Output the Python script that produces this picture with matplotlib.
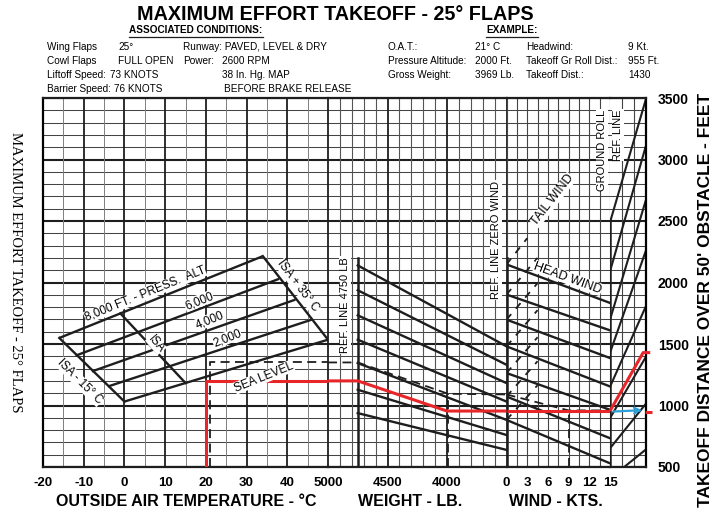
import matplotlib
matplotlib.use("Agg")
import matplotlib.pyplot as plt
from matplotlib.lines import Line2D

# ---------------- data ----------------
dist_ticks = [500, 1000, 1500, 2000, 2500, 3000, 3500]
temp_ticks = [-20, -10, 0, 10, 20, 30, 40]
weight_ticks = [5000, 4500, 4000]
wind_ticks = [0, 3, 6, 9, 12, 15]

alt_names = ["SEA LEVEL", "2,000", "4,000", "6,000", "8,000 FT. - PRESS.  ALT"]
alt_temp_cold = [0, -4, -8, -12, -16]          # ISA - 15 C edge
alt_temp_hot = [50, 46, 42, 38, 34]            # ISA + 35 C edge
alt_dist_cold = [1032, 1155, 1277, 1405, 1549]
alt_dist_hot = [1535, 1698, 1861, 2030, 2214]
isa_temp = [-1, 15]
isa_dist = [1749, 1183]

weight_ref = [4750, 3500]
weight_dist_start = [2139, 1937, 1733, 1535, 1345, 1128, 938]
weight_dist_end = [1481, 1331, 1182, 1032, 883, 760, 639]

headwind_kts = [0, 15]
headwind_dist_start = [2147, 1902, 1698, 1481, 1264, 1073, 883]
headwind_dist_end = [1834, 1611, 1386, 1155, 965, 734, 530]

tailwind_kts_end = [3.0, 4.5, 4.5, 4.5, 4.5, 4.5, 4.5]
tailwind_dist_end = [2360, 2200, 1995, 1775, 1555, 1360, 1165]

groundroll_x = [0, 3]
groundroll_dist_start = [407, 652, 897, 1152, 1429, 1698, 2090, 2489]
groundroll_dist_end = [640, 1010, 1390, 1800, 2250, 2660, 3100, 3480]

# dashed example path
ex_oat, ex_dist_temp = 21, 1350
ex_weight, ex_dist_weight = 3990, 1095
ex_wind, ex_dist_wind = 9, 960

# red solution path
red_oat, red_dist_temp = 20, 1200
red_weight, red_dist_roll = 4000, 955
red_gr_x, red_dist_total = 2.8, 1430

# ---------------- figure ----------------
W, H = 720, 525
fig = plt.figure(figsize=(7.2, 5.25), dpi=100)
fig.patch.set_facecolor("white")
SANS = ["Liberation Sans", "DejaVu Sans"]
SERIF = ["Liberation Serif", "DejaVu Serif"]
INK = "#1e1e1e"
RED = "#e8262a"
BLUE = "#2a9fd8"


def fx(x):
    return x / W


def fy(y):
    return 1 - y / H


TOP, BOT = 98, 467
bounds = {"t": (43, 328), "w": (328, 506.5), "k": (506.5, 610), "g": (610, 645.5)}


def make_ax(key, xlim):
    x0, x1 = bounds[key]
    ax = fig.add_axes([fx(x0), fy(BOT), (x1 - x0) / W, (BOT - TOP) / H])
    ax.set_xlim(*xlim)
    ax.set_ylim(500, 3500)
    ax.set_facecolor("none")
    for s in ax.spines.values():
        s.set_visible(False)
    for side in ("top", "bottom"):
        ax.spines[side].set_visible(True)
        ax.spines[side].set_linewidth(1.6)
        ax.spines[side].set_color(INK)
    ax.set_yticks([])
    ax.tick_params(axis="x", length=0, pad=7)
    for d in range(500, 3600, 100):
        major = d % 500 == 0
        ax.axhline(d, color=INK if major else "#444444", lw=1.5 if major else 0.75, zorder=0)
    return ax


ax_t = make_ax("t", (-20, 50))
ax_w = make_ax("w", (5000, 3500))
ax_k = make_ax("k", (0, 15))
ax_g = make_ax("g", (0, 3))

# vertical grid
for t in range(-20, 51, 5):
    major = t % 10 == 0
    ax_t.axvline(t, color=INK if major else "#808080", lw=1.3 if major else 0.7, zorder=0)
ax_t.spines["left"].set_visible(True)
ax_t.spines["left"].set_linewidth(1.6)
for wv in range(5000, 3499, -100):
    major = wv in (5000, 4500, 4000, 3500)
    ax_w.axvline(wv, color=INK if major else "#555555", lw=1.3 if major else 0.8, zorder=0)
for i in range(11):
    ax_k.axvline(i * 1.5, color="#444444", lw=0.8, zorder=0)
for gx in (1, 2):
    ax_g.axvline(gx, color="#444444", lw=0.8, zorder=0)
ax_g.spines["right"].set_visible(True)
ax_g.spines["right"].set_linewidth(1.6)

# reference lines
ax_w.plot([4750, 4750], [500, 2200], color=INK, lw=1.8, zorder=1)
ax_k.plot([0, 0], [500, 2200], color=INK, lw=1.8, zorder=1)
ax_g.plot([0, 0], [500, 2520], color=INK, lw=1.8, zorder=1)

# ticks / labels
tick_font = dict(family=SANS, weight="bold", size=9.5)
ax_t.set_xticks(temp_ticks)
ax_t.set_xticklabels([str(v) for v in temp_ticks], **tick_font)
ax_w.set_xticks(weight_ticks)
ax_w.set_xticklabels([str(v) for v in weight_ticks], **tick_font)
ax_k.set_xticks(wind_ticks)
ax_k.set_xticklabels([str(v) for v in wind_ticks], **tick_font)
ax_g.set_xticks([])
ax_g.yaxis.tick_right()
ax_g.set_yticks(dist_ticks)
ax_g.set_yticklabels([str(v) for v in dist_ticks], family=SANS, weight="bold", size=10)
ax_g.tick_params(axis="y", length=0, pad=9)

LW = 1.7
# pressure altitude parallelogram
for tc, th, dc, dh in zip(alt_temp_cold, alt_temp_hot, alt_dist_cold, alt_dist_hot):
    ax_t.plot([tc, th], [dc, dh], color=INK, lw=LW, zorder=2, solid_capstyle="butt")
ax_t.plot([alt_temp_cold[0], alt_temp_cold[-1]], [alt_dist_cold[0], alt_dist_cold[-1]], color=INK, lw=LW, zorder=2)
ax_t.plot([alt_temp_hot[0], alt_temp_hot[-1]], [alt_dist_hot[0], alt_dist_hot[-1]], color=INK, lw=LW, zorder=2)
ax_t.plot(isa_temp, isa_dist, color=INK, lw=LW, zorder=2)

# weight guide lines
for ds, de in zip(weight_dist_start, weight_dist_end):
    ax_w.plot(weight_ref, [ds, de], color=INK, lw=LW, zorder=2)

# headwind / tailwind guide lines
for ds, de in zip(headwind_dist_start, headwind_dist_end):
    ax_k.plot(headwind_kts, [ds, de], color=INK, lw=LW, zorder=2)
for ds, ke, de in zip(headwind_dist_start, tailwind_kts_end, tailwind_dist_end):
    ax_k.plot([0, ke], [ds, de], color=INK, lw=1.3, ls=(0, (4, 4)), zorder=2)

# ground roll guide lines
for ds, de in zip(groundroll_dist_start, groundroll_dist_end):
    ax_g.plot(groundroll_x, [ds, de], color=INK, lw=1.5, zorder=2)

# dashed example path
dash = dict(color=INK, lw=1.3, ls=(0, (5, 3)), zorder=3)
ax_t.plot([ex_oat, ex_oat, 50], [500, ex_dist_temp, ex_dist_temp], **dash)
ax_w.plot([5000, 4750, ex_weight, 3500], [ex_dist_temp, ex_dist_temp, ex_dist_weight, ex_dist_weight - 5], **dash)
ax_w.plot([ex_weight, ex_weight], [500, ex_dist_weight], **dash)
ax_k.plot([0, ex_wind, 15], [ex_dist_weight - 5, ex_dist_wind, ex_dist_wind], **dash)
ax_k.plot([ex_wind, ex_wind], [500, ex_dist_wind], **dash)

# red solution path
red = dict(color=RED, lw=2.2, zorder=5, solid_capstyle="butt")
ax_t.plot([red_oat, red_oat, 50], [500, red_dist_temp, red_dist_temp], **red)
ax_w.plot([5000, 4750, red_weight, 3500], [red_dist_temp, red_dist_temp, red_dist_roll, red_dist_roll], **red)
ax_k.plot([0, 15], [red_dist_roll, red_dist_roll], **red)
ax_g.plot([0, red_gr_x, 3.4], [red_dist_roll, red_dist_total, red_dist_total], clip_on=False, **red)
ax_g.plot([2.95, 3.55], [red_dist_roll - 10, red_dist_roll - 10], clip_on=False, **red)
ax_g.annotate("", xy=(2.95, red_dist_roll + 8), xytext=(0.05, red_dist_roll - 5),
              arrowprops=dict(arrowstyle="->", color=BLUE, lw=1.6), zorder=6)

# ---------------- text ----------------
def ptext(x, y, s, **kw):
    kw.setdefault("ha", "center")
    kw.setdefault("va", "center")
    return fig.text(fx(x), fy(y), s, **kw)


wb = dict(fc="white", ec="none", pad=0.2)
# parallelogram labels
lab = dict(family=SANS, size=8.5, rotation=22, rotation_mode="anchor", bbox=wb)
ptext(145, 294, alt_names[4], **lab)
ptext(199, 301, alt_names[3], **lab)
ptext(210, 320, alt_names[2], **lab)
ptext(227, 338, alt_names[1], **lab)
ptext(264, 377, alt_names[0], **lab)
ptext(298, 286, "ISA + 35° C", family=SANS, size=8.5, rotation=-53, rotation_mode="anchor", bbox=wb)
ptext(80, 382, "ISA - 15° C", family=SANS, size=8.5, rotation=-45, rotation_mode="anchor", bbox=wb)
ptext(156, 344, "ISA", family=SANS, size=8.5, rotation=-50, rotation_mode="anchor", bbox=wb)

side = dict(family=SANS, size=8, rotation=90, bbox=dict(fc="white", ec="none", pad=0.5))
ptext(345, 305, "REF. LINE 4750 LB", **side)
ptext(496, 240, "REF. LINE ZERO WIND", **side)
ptext(602, 150, "GROUND ROLL", **side)
ptext(618, 135, "REF. LINE", **side)
ptext(553, 200, "TAIL WIND", family=SANS, size=9, rotation=52, rotation_mode="anchor", bbox=wb)
ptext(568, 278, "HEAD WIND", family=SANS, size=9, rotation=-20, rotation_mode="anchor", bbox=wb)

# titles
ptext(335, 14, "MAXIMUM EFFORT TAKEOFF - 25° FLAPS", family=SANS, weight="bold", size=14.2)
ax_title_font = dict(family=SANS, weight="bold", size=11.5)
ptext(186, 502, "OUTSIDE AIR TEMPERATURE - °C", **ax_title_font)
ptext(410, 502, "WEIGHT - LB.", **ax_title_font)
ptext(556, 502, "WIND - KTS.", **ax_title_font)
ptext(706, 300, "TAKEOFF DISTANCE OVER 50' OBSTACLE - FEET", rotation=90,
      family=SANS, weight="bold", size=12.5)
ptext(15, 272, "MAXIMUM EFFORT TAKEOFF - 25° FLAPS", rotation=-90, family=SERIF, size=10.5)

# header
under = []
under.append(ptext(196, 30, "ASSOCIATED CONDITIONS:", family=SANS, weight="bold", size=7.2))
under.append(ptext(512, 30, "EXAMPLE:", family=SANS, weight="bold", size=7.2))
hdr = dict(family=SANS, size=7.2, ha="left")
rows = [
    (47, [(47, "Wing Flaps"), (118, "25°"), (183, "Runway: PAVED, LEVEL & DRY"),
          (388, "O.A.T.:"), (475, "21° C"), (526, "Headwind:"), (628, "9 Kt.")]),
    (61, [(47, "Cowl Flaps"), (118, "FULL OPEN"), (183, "Power:"), (222, "2600 RPM"),
          (388, "Pressure Altitude:"), (475, "2000 Ft."), (526, "Takeoff Gr Roll Dist.:"), (628, "955 Ft.")]),
    (75, [(47, "Liftoff Speed:"), (110, "73 KNOTS"), (222, "38 In. Hg. MAP"),
          (388, "Gross Weight:"), (475, "3969 Lb."), (526, "Takeoff Dist.:"), (628, "1430")]),
    (89, [(47, "Barrier Speed:"), (114, "76 KNOTS"), (224, "BEFORE BRAKE RELEASE")]),
]
for y, items in rows:
    for x, s in items:
        ptext(x, y, s, **hdr)

fig.canvas.draw()
r = fig.canvas.get_renderer()
for t in under:
    bb = t.get_window_extent(r)
    fig.add_artist(Line2D([bb.x0 / W, bb.x1 / W], [(bb.y0 - 1.5) / H, (bb.y0 - 1.5) / H],
                          color=INK, lw=0.9, transform=fig.transFigure))

fig.savefig("out.png", dpi=100, facecolor="white")
